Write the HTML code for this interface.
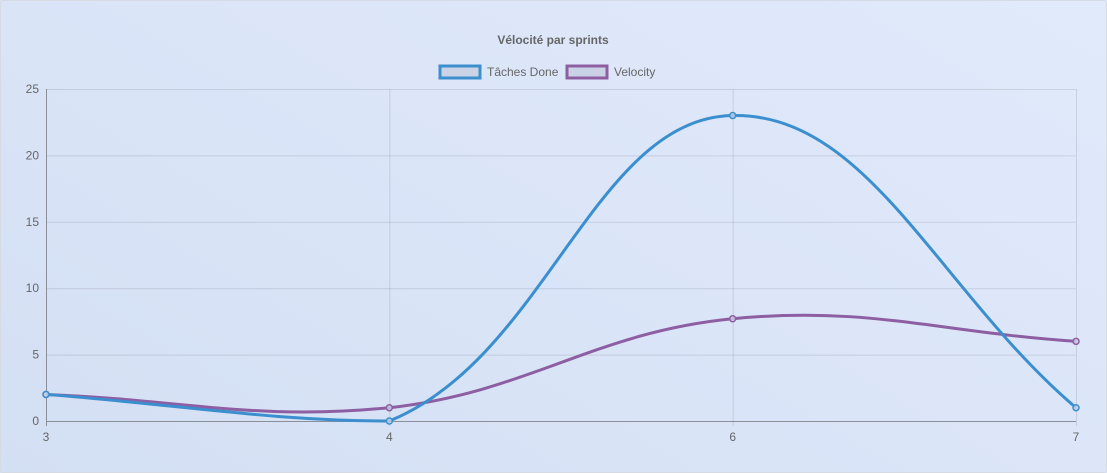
<!DOCTYPE html>
<html><head><meta charset="utf-8"><style>
html,body{margin:0;padding:0;}
body{width:1107px;height:473px;overflow:hidden;position:relative;background:linear-gradient(30deg,#d3dff3 0%,#dbe5f8 50%,#e1eafb 100%);font-family:"Liberation Sans",Arial,sans-serif;}
#wrap{position:absolute;left:0;top:0;width:1105px;height:471px;border:1px solid #d6dbe3;border-radius:3px;}
#chart{position:absolute;left:0;top:0;}
</style></head><body>
<div id="wrap"></div>
<svg id="chart" width="1107" height="473" xmlns="http://www.w3.org/2000/svg">
<text x="553" y="44" text-anchor="middle" font-size="12" font-weight="bold" fill="#666">Vélocité par sprints</text>
<g>
<rect x="440" y="66" width="40" height="12" fill="#c9d3e5" stroke="#3b8fce" stroke-width="3"></rect>
<text x="487" y="76" font-size="12" fill="#666">Tâches Done</text></g>
<g>
<rect x="567" y="66" width="40" height="12" fill="#c9d3e5" stroke="#8e5ea2" stroke-width="3"></rect>
<text x="614" y="76" font-size="12" fill="#666">Velocity</text></g>
<g id="grid"></g><g id="series"></g>
</svg>
<script>
const categories=["3","4","6","7"];
const tachesDone=[2,0,23,1];
const velocity=[2,1,7.7,6];
const yTicks=[0,5,10,15,20,25];
const L=46,R=1076,T=89,B=421,yMax=25;
const xs=i=>L+i*(R-L)/(categories.length-1);
const ys=v=>B-v/yMax*(B-T);
const NS="http://www.w3.org/2000/svg";
const grid=document.getElementById('grid'),ser=document.getElementById('series');
function mk(tag,attrs,parent){const e=document.createElementNS(NS,tag);for(const k in attrs)e.setAttribute(k,attrs[k]);parent.appendChild(e);return e;}
yTicks.forEach(t=>{
 const y=ys(t)+0.5;
 const l=mk('line',{x1:L,x2:R,y1:y,y2:y,stroke:t===0?'#8a8f99':'rgba(0,0,0,0.1)','stroke-width':1},grid);
 
 
 const tx=mk('text',{x:L-7,y:ys(t)+4,'text-anchor':'end','font-size':12,fill:'#666'},grid);tx.textContent=t;
 
 
});
categories.forEach((c,i)=>{
 const x=xs(i)+0.5;
 const l=mk('line',{x1:x,x2:x,y1:T,y2:B+5,stroke:i===0?'#8a8f99':'rgba(0,0,0,0.1)','stroke-width':1},grid);
 
 
 const tx=mk('text',{x:xs(i),y:B+20,'text-anchor':'middle','font-size':12,fill:'#666'},grid);tx.textContent=c;
 
 
});
function path(vals){
 const p=vals.map((v,i)=>({x:xs(i),y:ys(v)}));const t=0.4;const cps=[];
 p.forEach((c,i)=>{const pr=p[i-1]||c,nx=p[i+1]||c;
  const d01=Math.hypot(c.x-pr.x,c.y-pr.y),d12=Math.hypot(nx.x-c.x,nx.y-c.y);
  let s01=d01/(d01+d12)||0,s12=d12/(d01+d12)||0;const fa=t*s01,fb=t*s12;
  const clamp=y=>Math.max(T,Math.min(B,y));
  cps.push({px:c.x-fa*(nx.x-pr.x),py:clamp(c.y-fa*(nx.y-pr.y)),nx:c.x+fb*(nx.x-pr.x),ny:clamp(c.y+fb*(nx.y-pr.y))});});
 let d=`M${p[0].x},${p[0].y}`;
 for(let i=1;i<p.length;i++)d+=` C${cps[i-1].nx},${cps[i-1].ny} ${cps[i].px},${cps[i].py} ${p[i].x},${p[i].y}`;
 return {d,p};
}
function draw(vals,color,name){
 const g=mk('g',{},ser);
 
 
 const r=path(vals);
 const l=mk('path',{d:r.d,fill:'none',stroke:color,'stroke-width':3},g);
 
 
 r.p.forEach(pt=>{const c=mk('circle',{cx:pt.x,cy:pt.y,r:3,fill:'rgba(200,210,230,0.8)',stroke:color,'stroke-width':1.5},g);
  
  });
}
draw(velocity,'#8e5ea2','velocity');
draw(tachesDone,'#3b8fce','taches-done');
</script>
</body></html>
